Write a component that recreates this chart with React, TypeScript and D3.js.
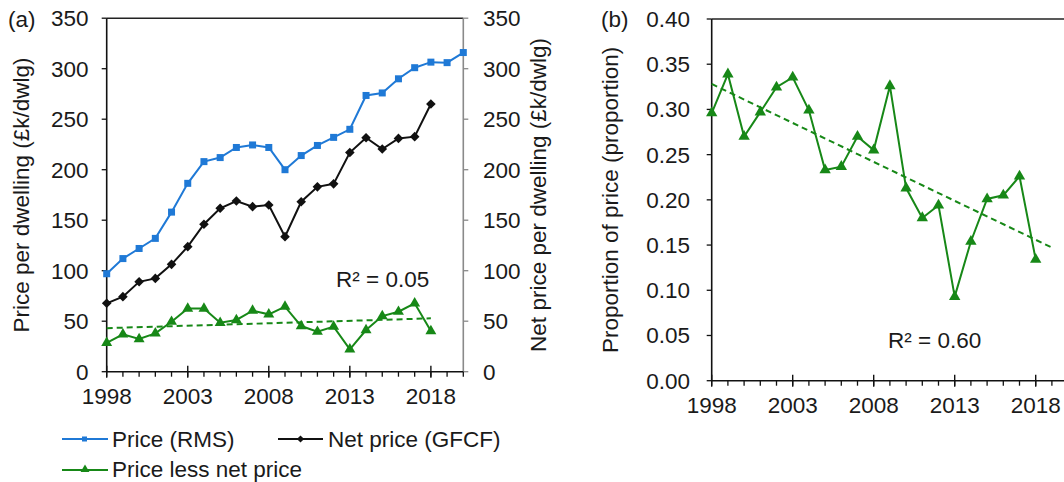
import React from "react";
import * as d3 from "d3";

// ---------- data ----------
const yearsPrice = [1998, 1999, 2000, 2001, 2002, 2003, 2004, 2005, 2006, 2007, 2008, 2009, 2010, 2011, 2012, 2013, 2014, 2015, 2016, 2017, 2018, 2019, 2020];
const priceRMS = [97, 112, 122, 132, 158, 186.5, 208, 212, 222, 224.5, 222, 200, 214, 224, 232, 240, 273.5, 276, 290, 301, 306.5, 306, 316];

const yearsNet = [1998, 1999, 2000, 2001, 2002, 2003, 2004, 2005, 2006, 2007, 2008, 2009, 2010, 2011, 2012, 2013, 2014, 2015, 2016, 2017, 2018];
const netGFCF = [67.7, 74.3, 89, 92.4, 106.3, 123.8, 146, 161.8, 169, 163.4, 165, 133.7, 168.3, 183, 186, 217, 231.7, 220.5, 231, 232.7, 265];
const lessNet = [28.5, 37, 32.4, 38, 49.5, 62.6, 62.5, 48.5, 51.2, 60.4, 56.8, 64.4, 45.2, 39.6, 44.6, 22.2, 41.3, 55.1, 59.4, 67.7, 40.3];

const proportion = [0.296, 0.339, 0.27, 0.297, 0.3245, 0.3355, 0.299, 0.233, 0.2367, 0.27, 0.255, 0.326, 0.213, 0.18, 0.194, 0.093, 0.154, 0.201, 0.205, 0.226, 0.134];

const ticksA = [0, 50, 100, 150, 200, 250, 300, 350];
const ticksB = [0, 0.05, 0.1, 0.15, 0.2, 0.25, 0.3, 0.35, 0.4];
const majorYears = [1998, 2003, 2008, 2013, 2018];
const axisYears = [1998, 1999, 2000, 2001, 2002, 2003, 2004, 2005, 2006, 2007, 2008, 2009, 2010, 2011, 2012, 2013, 2014, 2015, 2016, 2017, 2018, 2019, 2020];
const trendEndA = 2018;
const trendEndB = 2019;
const r2A = "R² = 0.05";
const r2B = "R² = 0.60";

// ---------- style ----------
const BLUE = "#1f79d6";
const BLACK = "#111111";
const GREEN = "#178817";
const TXT = "#1a1a1a";
const FONT = "'Liberation Sans', Arial, sans-serif";
const FS = 22.5;

function linreg(xs: number[], ys: number[]) {
  const n = xs.length;
  const mx = d3.mean(xs) as number;
  const my = d3.mean(ys) as number;
  let sxy = 0, sxx = 0;
  for (let i = 0; i < n; i++) {
    sxy += (xs[i] - mx) * (ys[i] - my);
    sxx += (xs[i] - mx) * (xs[i] - mx);
  }
  const b = sxy / sxx;
  return (x: number) => my + b * (x - mx);
}

const tri = d3.symbol().type(d3.symbolTriangle);
const diamond = (r: number) => `M0,${-r}L${r},0L0,${r}L${-r},0Z`;

function XAxis({ x, y0 }: { x: d3.ScaleLinear<number, number>; y0: number }) {
  const [r0, r1] = x.range();
  return (
    <g>
      <line x1={r0} x2={r1} y1={y0} y2={y0} stroke={BLACK} strokeWidth={1.6} />
      {axisYears.map((yr) => (
        <line key={"m" + yr} x1={x(yr)} x2={x(yr)} y1={y0} y2={y0 + 5} stroke={BLACK} strokeWidth={1.3} />
      ))}
      {majorYears.map((yr) => (
        <g key={"M" + yr}>
          <line x1={x(yr)} x2={x(yr)} y1={y0 - 6} y2={y0 + 6} stroke={BLACK} strokeWidth={1.4} />
          <text x={x(yr)} y={y0 + 32} textAnchor="middle" fontSize={FS} fill={TXT} fontFamily={FONT}>
            {yr}
          </text>
        </g>
      ))}
    </g>
  );
}

export default function App() {
  // panel (a)
  const xA = d3.scaleLinear().domain([1998, 2020]).range([106.7, 463.3]);
  const yA = d3.scaleLinear().domain([0, 350]).range([371.7, 18.2]);
  // panel (b)
  const xB = d3.scaleLinear().domain([1998, 2020]).range([711.7, 711.7 + 22 * 16.2]);
  const yB = d3.scaleLinear().domain([0, 0.4]).range([380.7, 19]);

  const lineA = (xs: number[], ys: number[]) =>
    d3.line<number>().x((_, i) => xA(xs[i])).y((v) => yA(v))(ys) as string;

  const trendA = linreg(yearsNet, lessNet);
  const trendB = linreg(yearsNet, proportion);

  const lineB = d3.line<number>().x((_, i) => xB(yearsNet[i])).y((v) => yB(v))(proportion) as string;

  const triPath = tri.size(52)() as string;
  const triPathB = tri.size(56)() as string;
  const diaPath = diamond(4.8);

  return (
    <svg
      width={1064}
      height={482}
      style={{ position: "absolute", left: 0, top: 0, background: "#fff" }}
      fontFamily={FONT}
    >
      <rect x={0} y={0} width={1064} height={482} fill="#fff" />

      {/* ===== Panel (a) ===== */}
      <text x={8} y={27} fontSize={FS} fill={TXT}>(a)</text>
      <line x1={xA.range()[0]} x2={xA.range()[1]} y1={yA(350)} y2={yA(350)} stroke="#222" strokeWidth={1.6} />
      <line x1={xA.range()[0]} x2={xA.range()[0]} y1={yA(0)} y2={yA(350)} stroke={BLACK} strokeWidth={1.6} />
      {ticksA.map((t) => (
        <g key={"la" + t}>
          <line x1={xA.range()[0] - 5} x2={xA.range()[0]} y1={yA(t)} y2={yA(t)} stroke={BLACK} strokeWidth={1.3} />
          <text x={88.5} y={yA(t) + 8} textAnchor="end" fontSize={FS} fill={TXT}>{t}</text>
        </g>
      ))}
      <line x1={xA.range()[1]} x2={xA.range()[1]} y1={yA(0)} y2={yA(350)} stroke="#8a8a8a" strokeWidth={1.6} />
      {ticksA.map((t) => (
        <g key={"ra" + t}>
          <line x1={xA.range()[1]} x2={xA.range()[1] + 5} y1={yA(t)} y2={yA(t)} stroke="#8a8a8a" strokeWidth={1.3} />
          <text x={483} y={yA(t) + 8} textAnchor="start" fontSize={FS} fill={TXT}>{t}</text>
        </g>
      ))}
      <XAxis x={xA} y0={yA(0)} />

      <text transform={`translate(29,${(yA(0) + yA(350)) / 2}) rotate(-90)`} textAnchor="middle" fontSize={FS} fill={TXT}>
        Price per dwelling (£k/dwlg)
      </text>
      <text transform={`translate(546,${(yA(0) + yA(350)) / 2}) rotate(-90)`} textAnchor="middle" fontSize={FS} fill={TXT}>
        Net price per dwelling (£k/dwlg)
      </text>

      {/* series */}
      <path d={lineA(yearsPrice, priceRMS)} fill="none" stroke={BLUE} strokeWidth={2} />
      {priceRMS.map((v, i) => (
        <rect key={"b" + i} x={xA(yearsPrice[i]) - 3.5} y={yA(v) - 3.5} width={7} height={7} fill={BLUE} />
      ))}
      <path d={lineA(yearsNet, netGFCF)} fill="none" stroke={BLACK} strokeWidth={2} />
      {netGFCF.map((v, i) => (
        <path key={"k" + i} d={diaPath} transform={`translate(${xA(yearsNet[i])},${yA(v)})`} fill={BLACK} />
      ))}
      <line
        x1={xA(1998)} x2={xA(trendEndA)} y1={yA(trendA(1998))} y2={yA(trendA(trendEndA))}
        stroke={GREEN} strokeWidth={2} strokeDasharray="6,4"
      />
      <path d={lineA(yearsNet, lessNet)} fill="none" stroke={GREEN} strokeWidth={2} />
      {lessNet.map((v, i) => (
        <path key={"g" + i} d={triPath} transform={`translate(${xA(yearsNet[i])},${yA(v)})`} fill={GREEN} />
      ))}
      <text x={336} y={287} fontSize={FS} fill={TXT}>{r2A}</text>

      {/* legend */}
      <g>
        <line x1={62} x2={108} y1={439} y2={439} stroke={BLUE} strokeWidth={2} />
        <rect x={82} y={436.5} width={5} height={5} fill={BLUE} />
        <text x={112} y={446.5} fontSize={FS} fill={TXT}>Price (RMS)</text>
        <line x1={278} x2={323} y1={439} y2={439} stroke={BLACK} strokeWidth={2} />
        <path d={diamond(3.6)} transform="translate(300.5,439)" fill={BLACK} />
        <text x={328} y={446.5} fontSize={FS} fill={TXT}>Net price (GFCF)</text>
        <line x1={62} x2={108} y1={470} y2={470} stroke={GREEN} strokeWidth={2} />
        <path d={tri.size(34)() as string} transform="translate(85,469.5)" fill={GREEN} />
        <text x={112} y={477.3} fontSize={FS} fill={TXT}>Price less net price</text>
      </g>

      {/* ===== Panel (b) ===== */}
      <text x={601} y={27} fontSize={FS} fill={TXT}>(b)</text>
      <line x1={xB.range()[0]} x2={1064} y1={yB(0.4)} y2={yB(0.4)} stroke="#222" strokeWidth={1.6} />
      <line x1={xB.range()[0]} x2={xB.range()[0]} y1={yB(0)} y2={yB(0.4)} stroke={BLACK} strokeWidth={1.6} />
      {ticksB.map((t) => (
        <g key={"lb" + t}>
          <line x1={xB.range()[0] - 5} x2={xB.range()[0]} y1={yB(t)} y2={yB(t)} stroke={BLACK} strokeWidth={1.3} />
          <text x={690} y={yB(t) + 8} textAnchor="end" fontSize={FS} fill={TXT}>{d3.format(".2f")(t)}</text>
        </g>
      ))}
      <XAxis x={xB} y0={yB(0)} />
      <text transform={`translate(618,${(yB(0) + yB(0.4)) / 2}) rotate(-90)`} textAnchor="middle" fontSize={FS} fill={TXT}>
        Proportion of price (proportion)
      </text>

      <line
        x1={xB(1998)} x2={xB(trendEndB)} y1={yB(trendB(1998))} y2={yB(trendB(trendEndB))}
        stroke={GREEN} strokeWidth={2} strokeDasharray="6,4"
      />
      <path d={lineB} fill="none" stroke={GREEN} strokeWidth={2} />
      {proportion.map((v, i) => (
        <path key={"p" + i} d={triPathB} transform={`translate(${xB(yearsNet[i])},${yB(v)})`} fill={GREEN} />
      ))}
      <text x={888} y={348} fontSize={FS} fill={TXT}>{r2B}</text>
    </svg>
  );
}
